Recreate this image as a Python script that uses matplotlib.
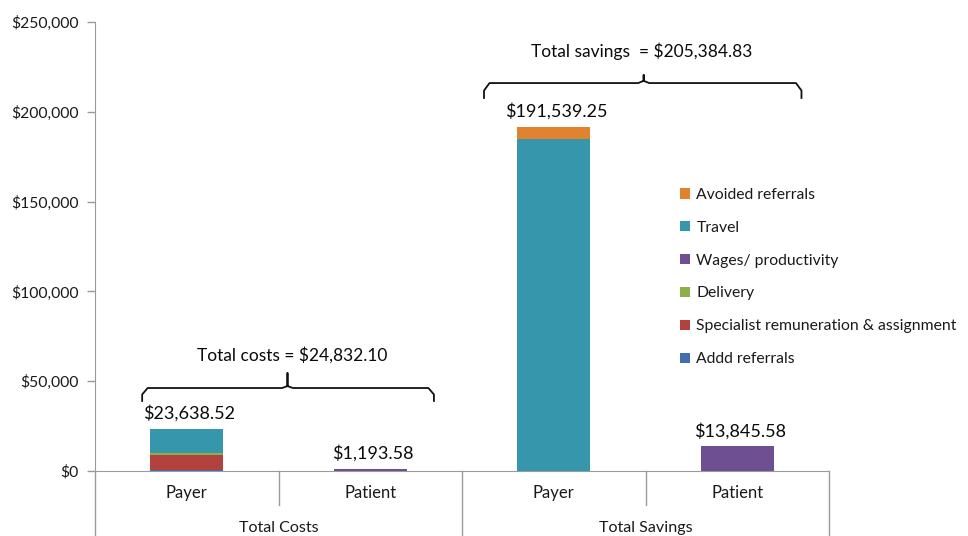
import matplotlib
matplotlib.use("Agg")
import matplotlib.pyplot as plt
from matplotlib.patches import Patch
from matplotlib.lines import Line2D
import matplotlib.transforms as mtransforms
import numpy as np

plt.rcParams['font.family'] = ['Lato', 'DejaVu Sans']

# ---------------- data ----------------
groups = ["Total Costs", "Total Savings"]
sub_labels = ["Payer", "Patient", "Payer", "Patient"]
series = ["Addd referrals", "Specialist remuneration & assignment", "Delivery",
          "Wages/ productivity", "Travel", "Avoided referrals"]
addd_referrals = [300, 0, 0, 0]
specialist = [8600, 0, 0, 0]
delivery = [1000, 0, 0, 0]
wages = [0, 1193.58, 0, 13845.58]
travel = [13738.52, 0, 184639.25, 0]
avoided_referrals = [0, 0, 6900.00, 0]
bar_totals = ["$23,638.52", "$1,193.58", "$191,539.25", "$13,845.58"]
total_costs_label = "Total costs = $24,832.10"
total_savings_label = "Total savings  = $205,384.83"
yticks = [0, 50000, 100000, 150000, 200000, 250000]
ytick_labels = ["$0", "$50,000", "$100,000", "$150,000", "$200,000", "$250,000"]

colors = {
    "Addd referrals": "#3F6FB0",
    "Specialist remuneration & assignment": "#B3423E",
    "Delivery": "#8BB04A",
    "Wages/ productivity": "#6E4F92",
    "Travel": "#3596AC",
    "Avoided referrals": "#E0822E",
}
values = [addd_referrals, specialist, delivery, wages, travel, avoided_referrals]

W, H = 968, 536
fig = plt.figure(figsize=(W / 100, H / 100), dpi=100)
ax = fig.add_axes([95 / W, (H - 471) / H, (829 - 95) / W, (471 - 22) / H])

x = np.arange(len(sub_labels))
bottom = np.zeros(len(sub_labels))
for name, vals in zip(series, values):
    v = np.array(vals, dtype=float)
    ax.bar(x, v, width=0.4, bottom=bottom, color=colors[name], label=name, zorder=3)
    bottom += v

for xi, top, lab in zip(x, bottom, bar_totals):
    ax.annotate(lab, (xi, top), xytext=(2, 5), textcoords="offset points",
                ha="center", va="bottom", fontsize=13, color="#0a0a0a")

ax.set_xlim(-0.5, 3.5)
ax.set_ylim(0, 250000)
ax.set_yticks(yticks)
ax.set_yticklabels(ytick_labels, fontsize=11.3, color="#1a1a1a")
ax.tick_params(axis="y", length=6, color="#9a9a9a", width=1, pad=6)
ax.set_xticks([])
for s in ["top", "right"]:
    ax.spines[s].set_visible(False)
ax.spines["left"].set_color("#9a9a9a")
ax.spines["bottom"].set_color("#9a9a9a")
ax.spines["left"].set_bounds(0, 250000)

# category axis (two-level)
trans = mtransforms.blended_transform_factory(ax.transData, ax.transAxes)
sep_short = -34 / 449
sep_long = -66 / 449
for b in [-0.5, 1.5, 3.5]:
    ax.add_line(Line2D([b, b], [0, sep_long], transform=trans, color="#9a9a9a",
                       lw=1, clip_on=False))
for b in [0.5, 2.5]:
    ax.add_line(Line2D([b, b], [0, sep_short], transform=trans, color="#9a9a9a",
                       lw=1, clip_on=False))
for xi, lab in zip(x, sub_labels):
    ax.text(xi, -22 / 449, lab, transform=trans, ha="center", va="center",
            fontsize=12, color="#1a1a1a")
for gi, g in enumerate(groups):
    ax.text(gi * 2 + 0.5, -57 / 449, g, transform=trans, ha="center", va="center",
            fontsize=11.6, color="#1a1a1a")


# braces
def brace(x0, x1, xm, y, drop, rise, dx):
    r = drop * 0.5
    xs = [x0, x0, x0 + dx, xm - dx, xm, xm, xm, xm + dx, x1 - dx, x1, x1]
    ys = [y - drop, y - r, y, y, y + r * 0.3, y + rise, y + r * 0.3, y, y, y - r, y - drop]
    ax.plot(xs, ys, color="#111111", lw=1.3, clip_on=False, zorder=4,
            solid_joinstyle="round")


brace(-0.243, 1.347, 0.549, 46200, 7200, 8300, 0.03)
brace(1.62, 3.35, 2.49, 216000, 8300, 4500, 0.03)
ax.text(0.575, 64600, total_costs_label, ha="center", va="center", fontsize=12.5,
        color="#0a0a0a")
ax.text(2.48, 233800, total_savings_label, ha="center", va="center", fontsize=12.5,
        color="#0a0a0a")

handles = [Patch(facecolor=colors[n], edgecolor="none") for n in series[::-1]]
fig.legend(handles, series[::-1], loc="upper left", bbox_to_anchor=(680 / W, 1 - 188 / H),
           frameon=False, fontsize=11.3, handlelength=0.62, handleheight=0.62,
           handletextpad=0.42, labelspacing=1.2, borderaxespad=0, borderpad=0,
           labelcolor="#1a1a1a")

fig.savefig("out.png", dpi=100)
